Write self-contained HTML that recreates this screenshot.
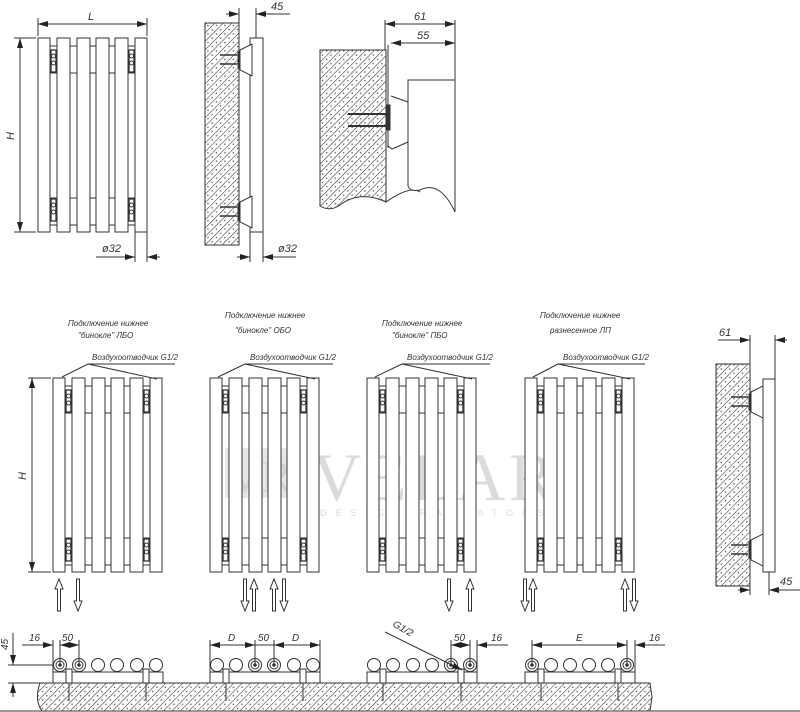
<!DOCTYPE html>
<html><head><meta charset="utf-8"><style>
html,body{margin:0;padding:0;background:#fff;}
svg{display:block;}
text{font-family:"Liberation Sans","DejaVu Sans",sans-serif;font-style:italic;fill:#333;}
</style></head><body>
<svg width="800" height="712" viewBox="0 0 800 712" xmlns="http://www.w3.org/2000/svg">
<defs>
<pattern id="h" width="6" height="6" patternUnits="userSpaceOnUse" patternTransform="rotate(45)">
<line x1="0" y1="0" x2="0" y2="6" stroke="#333" stroke-width="1.1"/>
<circle cx="3" cy="3" r="0.7" fill="#444"/>
</pattern>
<marker id="a" viewBox="0 0 10 6" refX="10" refY="3" markerWidth="10" markerHeight="6" orient="auto-start-reverse" markerUnits="userSpaceOnUse"><path d="M0,0 L10,3 L0,6 Z" fill="#222"/></marker>
<g id="rad" fill="#fff" stroke="#333" stroke-width="1">
<line x1="12" y1="8" x2="98" y2="8"/><line x1="12" y1="35" x2="98" y2="35"/>
<line x1="12" y1="160" x2="98" y2="160"/><line x1="12" y1="187" x2="98" y2="187"/>
<rect x="0" y="0" width="12" height="194"/>
<rect x="19" y="0" width="13" height="194"/>
<rect x="39" y="0" width="13" height="194"/>
<rect x="58" y="0" width="13" height="194"/>
<rect x="77" y="0" width="13" height="194"/>
<rect x="97" y="0" width="12" height="194"/>
<rect x="13" y="12" width="5" height="22" stroke-width="1.3"/><circle cx="15.5" cy="18" r="2"/><circle cx="15.5" cy="25" r="2"/>
<rect x="91" y="12" width="5" height="22" stroke-width="1.3"/><circle cx="93.5" cy="18" r="2"/><circle cx="93.5" cy="25" r="2"/>
<rect x="13" y="161" width="5" height="22" stroke-width="1.3"/><circle cx="15.5" cy="167" r="2"/><circle cx="15.5" cy="174" r="2"/>
<rect x="91" y="161" width="5" height="22" stroke-width="1.3"/><circle cx="93.5" cy="167" r="2"/><circle cx="93.5" cy="174" r="2"/>
</g>
<path id="up" d="M0,10 L4,0 L8,10 L5.5,10 L5.5,32 L2.5,32 L2.5,10 Z" fill="#fff" stroke="#333"/>
<path id="dn" d="M0,22 L4,32 L8,22 L5.5,22 L5.5,0 L2.5,0 L2.5,22 Z" fill="#fff" stroke="#333"/>
<g id="br" fill="#fff" stroke="#333"><path d="M0,0 L12,-6 L12,26 L0,20 Z"/><rect x="-2" y="2" width="2" height="16" fill="#333"/><line x1="-20" y1="5" x2="-3" y2="5" stroke-width="1.6"/><line x1="-20" y1="14" x2="-3" y2="14" stroke-width="1.6"/></g>
</defs>

<!-- watermark -->
<g opacity="0.35">
<rect x="225" y="448" width="66" height="50" fill="#bbb"/>
<text x="228" y="492" font-size="46" style="font-family:'Liberation Serif',serif;font-style:normal;fill:#888">VR</text>
<text x="312" y="500" font-size="68" style="font-family:'Liberation Serif',serif;font-style:normal;fill:#999" letter-spacing="4">VELAR</text>
<text x="320" y="516" font-size="9" style="font-style:normal;fill:#e77" letter-spacing="9">DESIGN RADIATORS</text>
</g>

<!-- top-left front view -->
<use href="#rad" x="38" y="38"/>
<g stroke="#333" fill="none">
<line x1="38" y1="36" x2="38" y2="18"/><line x1="147" y1="36" x2="147" y2="18"/>
<line x1="38" y1="24" x2="147" y2="24" marker-start="url(#a)" marker-end="url(#a)"/>
<line x1="36" y1="38" x2="14" y2="38"/><line x1="36" y1="232" x2="14" y2="232"/>
<line x1="20" y1="38" x2="20" y2="232" marker-start="url(#a)" marker-end="url(#a)"/>
<line x1="135" y1="232" x2="135" y2="262"/><line x1="147" y1="232" x2="147" y2="262"/>
<line x1="96" y1="257" x2="135" y2="257" marker-end="url(#a)"/><line x1="160" y1="257" x2="147" y2="257" marker-end="url(#a)"/>
</g>
<text x="88" y="20" font-size="11">L</text>
<text x="14" y="140" font-size="11" transform="rotate(-90 14 140)">H</text>
<text x="102" y="252" font-size="11">ø32</text>

<!-- top middle side view -->
<rect x="205" y="23" width="34" height="222" fill="url(#h)" stroke="#333"/>
<rect x="250" y="38" width="13" height="194" fill="#fff" stroke="#333"/>
<use href="#br" x="240" y="50"/>
<use href="#br" x="240" y="202"/>
<g stroke="#333" fill="none">
<line x1="239" y1="23" x2="239" y2="8"/><line x1="256" y1="38" x2="256" y2="8"/>
<line x1="226" y1="14" x2="239" y2="14" marker-end="url(#a)"/><line x1="290" y1="14" x2="256" y2="14" marker-end="url(#a)"/>
<line x1="250" y1="232" x2="250" y2="262"/><line x1="263" y1="232" x2="263" y2="262"/>
<line x1="237" y1="257" x2="250" y2="257" marker-end="url(#a)"/><line x1="296" y1="257" x2="263" y2="257" marker-end="url(#a)"/>
</g>
<text x="271" y="10" font-size="11">45</text>
<text x="278" y="252" font-size="11">ø32</text>

<!-- top right detail -->
<path d="M320,50 L386,50 L386,202 Q360,190 340,205 Q330,212 320,206 Z" fill="url(#h)" stroke="#333"/>
<g stroke="#333" fill="none">
<path d="M386,202 Q410,185 420,192"/>
<path d="M408,80 L455,80 L455,212 Q440,180 420,190 Q410,192 408,186 Z" fill="#fff"/>
<line x1="388" y1="45" x2="388" y2="148"/>
<path d="M388,146 L392,149 L408,142"/>
<line x1="391" y1="96" x2="408" y2="102"/>
<rect x="386" y="105" width="4" height="25" fill="#333"/>
<line x1="348" y1="114" x2="386" y2="114" stroke-width="2"/><line x1="348" y1="126" x2="386" y2="126" stroke-width="2"/>
<line x1="385" y1="50" x2="385" y2="20"/><line x1="455" y1="80" x2="455" y2="20"/>
<line x1="385" y1="24" x2="455" y2="24" marker-start="url(#a)" marker-end="url(#a)"/>
<line x1="391" y1="43" x2="455" y2="43" marker-start="url(#a)" marker-end="url(#a)"/>
</g>
<text x="414" y="20" font-size="11">61</text>
<text x="417" y="39" font-size="11">55</text>

<!-- bottom front views -->
<use href="#rad" x="53" y="378"/>
<use href="#rad" x="210" y="378"/>
<use href="#rad" x="367" y="378"/>
<use href="#rad" x="525" y="378"/>

<g font-size="8">
<text x="68" y="326">Подключение нижнее</text><text x="78" y="338">"бинокле" ЛБО</text>
<text x="225" y="318">Подключение нижнее</text><text x="235" y="333">"бинокле" ОБО</text>
<text x="382" y="326">Подключение нижнее</text><text x="392" y="338">"бинокле" ПБО</text>
<text x="540" y="318">Подключение нижнее</text><text x="550" y="333">разнесенное ЛП</text>
<text x="92" y="360">Воздухоотводчик G1/2</text>
<text x="250" y="360">Воздухоотводчик G1/2</text>
<text x="407" y="360">Воздухоотводчик G1/2</text>
<text x="563" y="360">Воздухоотводчик G1/2</text>
</g>
<g stroke="#333" fill="none">
<line x1="88" y1="364" x2="175" y2="364"/><path d="M88,364 L62,377 M88,364 L157,379"/>
<line x1="245" y1="364" x2="333" y2="364"/><path d="M245,364 L218,377 M245,364 L315,379"/>
<line x1="402" y1="364" x2="490" y2="364"/><path d="M402,364 L375,377 M402,364 L472,379"/>
<line x1="558" y1="364" x2="645" y2="364"/><path d="M558,364 L533,377 M558,364 L630,379"/>
<line x1="51" y1="378" x2="28" y2="378"/><line x1="51" y1="572" x2="28" y2="572"/>
<line x1="32" y1="378" x2="32" y2="572" marker-start="url(#a)" marker-end="url(#a)"/>
</g>
<text x="26" y="480" font-size="11" transform="rotate(-90 26 480)">H</text>

<!-- arrows -->
<use href="#up" x="55" y="579"/><use href="#dn" x="74" y="579"/>
<use href="#dn" x="241" y="579"/><use href="#up" x="250" y="579"/><use href="#up" x="270" y="579"/><use href="#dn" x="280" y="579"/>
<use href="#dn" x="445" y="579"/><use href="#up" x="466" y="579"/>
<use href="#dn" x="521" y="579"/><use href="#up" x="529" y="579"/><use href="#up" x="621" y="579"/><use href="#dn" x="630" y="579"/>

<!-- right side view -->
<rect x="716" y="364" width="34" height="222" fill="url(#h)" stroke="#333"/>
<rect x="763" y="379" width="12" height="193" fill="#fff" stroke="#333"/>
<use href="#br" x="751" y="392"/>
<use href="#br" x="751" y="540"/>
<g stroke="#333" fill="none">
<line x1="750" y1="364" x2="750" y2="335"/><line x1="775" y1="379" x2="775" y2="335"/>
<line x1="718" y1="340" x2="750" y2="340"/>
<line x1="738" y1="340" x2="750" y2="340" marker-end="url(#a)"/><line x1="787" y1="340" x2="775" y2="340" marker-end="url(#a)"/>
<line x1="750" y1="586" x2="750" y2="595"/><line x1="769" y1="572" x2="769" y2="595"/>
<line x1="738" y1="590" x2="750" y2="590" marker-end="url(#a)"/><line x1="800" y1="590" x2="769" y2="590" marker-end="url(#a)"/>
</g>
<text x="719" y="336" font-size="11">61</text>
<text x="780" y="585" font-size="11">45</text>

<!-- bottom plan -->
<path d="M40,683 L650,683 L652,697 L650,711 L42,711 Q34,700 40,683 Z" fill="url(#h)" stroke="#333"/>
<line x1="0" y1="711" x2="800" y2="711" stroke="#333"/>
<g stroke="#333" fill="#fff">
<rect x="53" y="672" width="110" height="11"/>
<rect x="210" y="672" width="110" height="11"/>
<rect x="367" y="672" width="110" height="11"/>
<rect x="525" y="672" width="110" height="11"/>
</g>
<g stroke="#333" fill="#fff">
<circle cx="60" cy="665" r="6.5"/><circle cx="79" cy="665" r="6.5"/><circle cx="98" cy="665" r="6.5"/><circle cx="117" cy="665" r="6.5"/><circle cx="137" cy="665" r="6.5"/><circle cx="156" cy="665" r="6.5"/>
<circle cx="217" cy="665" r="6.5"/><circle cx="236" cy="665" r="6.5"/><circle cx="255" cy="665" r="6.5"/><circle cx="274" cy="665" r="6.5"/><circle cx="294" cy="665" r="6.5"/><circle cx="313" cy="665" r="6.5"/>
<circle cx="374" cy="665" r="6.5"/><circle cx="393" cy="665" r="6.5"/><circle cx="413" cy="665" r="6.5"/><circle cx="432" cy="665" r="6.5"/><circle cx="451" cy="665" r="6.5"/><circle cx="470" cy="665" r="6.5"/>
<circle cx="532" cy="665" r="6.5"/><circle cx="551" cy="665" r="6.5"/><circle cx="570" cy="665" r="6.5"/><circle cx="589" cy="665" r="6.5"/><circle cx="608" cy="665" r="6.5"/><circle cx="627" cy="665" r="6.5"/>
</g>
<g stroke="#333" fill="#fff">
<circle cx="60" cy="665" r="4"/><circle cx="79" cy="665" r="4"/><circle cx="255" cy="665" r="4"/><circle cx="274" cy="665" r="4"/><circle cx="451" cy="665" r="4"/><circle cx="470" cy="665" r="4"/><circle cx="532" cy="665" r="4"/><circle cx="627" cy="665" r="4"/>
</g>
<g fill="#333">
<circle cx="60" cy="665" r="1.8"/><circle cx="79" cy="665" r="1.8"/><circle cx="255" cy="665" r="1.8"/><circle cx="274" cy="665" r="1.8"/><circle cx="451" cy="665" r="1.8"/><circle cx="470" cy="665" r="1.8"/><circle cx="532" cy="665" r="1.8"/><circle cx="627" cy="665" r="1.8"/>
</g>
<g stroke="#333" fill="#fff">
<rect x="66" y="669" width="6" height="14"/><line x1="69" y1="683" x2="69" y2="701"/>
<rect x="143" y="669" width="6" height="14"/><line x1="146" y1="683" x2="146" y2="701"/>
<rect x="223" y="669" width="6" height="14"/><line x1="226" y1="683" x2="226" y2="701"/>
<rect x="300" y="669" width="6" height="14"/><line x1="303" y1="683" x2="303" y2="701"/>
<rect x="380" y="669" width="6" height="14"/><line x1="383" y1="683" x2="383" y2="701"/>
<rect x="458" y="669" width="6" height="14"/><line x1="461" y1="683" x2="461" y2="701"/>
<rect x="538" y="669" width="6" height="14"/><line x1="541" y1="683" x2="541" y2="701"/>
<rect x="615" y="669" width="6" height="14"/><line x1="618" y1="683" x2="618" y2="701"/>
</g>
<!-- plan dims -->
<g stroke="#333" fill="none">
<line x1="53" y1="640" x2="53" y2="672"/><line x1="60" y1="640" x2="60" y2="665"/><line x1="79" y1="640" x2="79" y2="665"/>
<line x1="22" y1="645" x2="53" y2="645" marker-end="url(#a)"/><line x1="60" y1="645" x2="79" y2="645" marker-start="url(#a)" marker-end="url(#a)"/>
<line x1="8" y1="665" x2="53" y2="665"/><line x1="8" y1="683" x2="40" y2="683"/>
<line x1="13" y1="633" x2="13" y2="665" marker-end="url(#a)"/><line x1="13" y1="697" x2="13" y2="683" marker-end="url(#a)"/>
<line x1="210" y1="640" x2="210" y2="672"/><line x1="320" y1="640" x2="320" y2="672"/><line x1="255" y1="640" x2="255" y2="665"/><line x1="274" y1="640" x2="274" y2="665"/>
<line x1="210" y1="645" x2="255" y2="645" marker-start="url(#a)" marker-end="url(#a)"/><line x1="255" y1="645" x2="274" y2="645"/><line x1="274" y1="645" x2="320" y2="645" marker-start="url(#a)" marker-end="url(#a)"/>
<line x1="451" y1="640" x2="451" y2="665"/><line x1="470" y1="640" x2="470" y2="665"/><line x1="477" y1="640" x2="477" y2="672"/>
<line x1="451" y1="645" x2="470" y2="645" marker-start="url(#a)" marker-end="url(#a)"/><line x1="508" y1="645" x2="477" y2="645" marker-end="url(#a)"/>
<line x1="385" y1="632" x2="462" y2="670" marker-end="url(#a)"/>
<line x1="532" y1="640" x2="532" y2="665"/><line x1="627" y1="640" x2="627" y2="665"/><line x1="635" y1="640" x2="635" y2="672"/>
<line x1="532" y1="645" x2="627" y2="645" marker-start="url(#a)" marker-end="url(#a)"/><line x1="665" y1="645" x2="635" y2="645" marker-end="url(#a)"/>
</g>
<g font-size="10">
<text x="29" y="641">16</text><text x="62" y="641">50</text>
<text x="8" y="650" transform="rotate(-90 8 650)">45</text>
<text x="228" y="641">D</text><text x="258" y="641">50</text><text x="292" y="641">D</text>
<text x="392" y="626" transform="rotate(30 392 626)">G1/2</text>
<text x="454" y="641">50</text><text x="491" y="641">16</text>
<text x="576" y="641">E</text><text x="649" y="641">16</text>
</g>
</svg>
</body></html>
